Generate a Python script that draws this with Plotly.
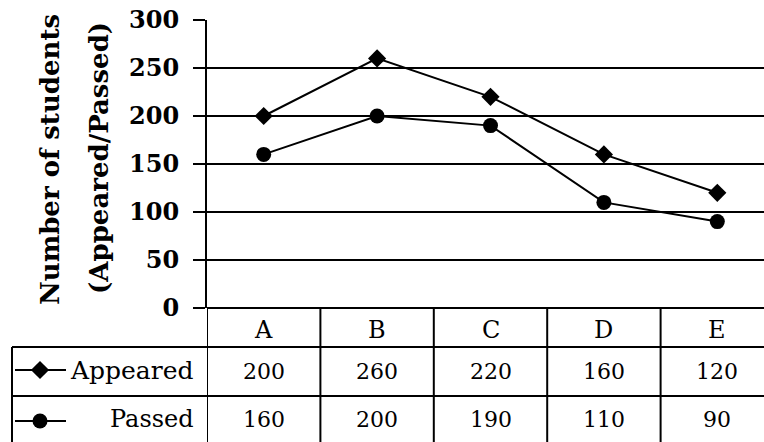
import plotly.graph_objects as go

# ---- data ----
categories = ["A", "B", "C", "D", "E"]
appeared = [200, 260, 220, 160, 120]
passed = [160, 200, 190, 110, 90]
y_ticks = [0, 50, 100, 150, 200, 250, 300]
series_names = ["Appeared", "Passed"]
y_title_lines = ["Number of students", "(Appeared/Passed)"]

# ---- layout constants (pixels) ----
W, H = 764, 442
PL, PT, PB = 207, 20, 308          # plot left, top, bottom (px)
COLW = 113.4                        # category column width (px)
ROW1, ROW2 = 347, 396              # table row boundaries (px)
INK = "#000000"
SERIF = "DejaVu Serif"

fig = go.Figure()
x_idx = list(range(len(categories)))

fig.add_trace(go.Scatter(
    x=x_idx, y=appeared, mode="lines+markers", name=series_names[0],
    line=dict(color=INK, width=2),
    marker=dict(symbol="diamond", size=14, color=INK),
    cliponaxis=False, showlegend=False))
fig.add_trace(go.Scatter(
    x=x_idx, y=passed, mode="lines+markers", name=series_names[1],
    line=dict(color=INK, width=2),
    marker=dict(symbol="circle", size=15, color=INK),
    cliponaxis=False, showlegend=False))

# legend keys inside the table (pixel overlay axes)
for key_y, sym, sz in ((370, "diamond", 14), (421, "circle", 15)):
    fig.add_trace(go.Scatter(
        x=[15, 66], y=[key_y, key_y], mode="lines",
        line=dict(color=INK, width=2),
        xaxis="x2", yaxis="y2", showlegend=False, hoverinfo="skip", cliponaxis=False))
    fig.add_trace(go.Scatter(
        x=[40], y=[key_y], mode="markers",
        marker=dict(symbol=sym, size=sz, color=INK, opacity=1),
        xaxis="x2", yaxis="y2", showlegend=False, hoverinfo="skip", cliponaxis=False))

shapes = []
# column dividers through the table
for i in range(len(categories)):
    shapes.append(dict(type="line", xref="x", yref="y2", x0=i - 0.5, x1=i - 0.5,
                       y0=PB, y1=H + 2, line=dict(color=INK, width=2)))
# horizontal table lines
for yy in (ROW1, ROW2):
    shapes.append(dict(type="line", xref="x2", yref="y2", x0=12, x1=W + 2,
                       y0=yy, y1=yy, line=dict(color=INK, width=2)))
# left border of label column
shapes.append(dict(type="line", xref="x2", yref="y2", x0=12, x1=12,
                   y0=ROW1, y1=H + 2, line=dict(color=INK, width=2)))

annotations = []
# y-axis title (two lines)
annotations.append(dict(text=y_title_lines[0], x=50, y=160, xref="x2", yref="y2",
                        textangle=-90, showarrow=False, xanchor="center", yanchor="middle",
                        font=dict(family=SERIF, size=26, color=INK, weight="bold")))
annotations.append(dict(text=y_title_lines[1], x=99, y=158, xref="x2", yref="y2",
                        textangle=-90, showarrow=False, xanchor="center", yanchor="middle",
                        font=dict(family=SERIF, size=26, color=INK, weight="bold")))
# header categories
for i, c in enumerate(categories):
    annotations.append(dict(text=c, x=i, y=330, xref="x", yref="y2", showarrow=False,
                            xanchor="center", yanchor="middle",
                            font=dict(family=SERIF, size=24, color=INK)))
# values rows
for i in range(len(categories)):
    annotations.append(dict(text=str(appeared[i]), x=i, y=371, xref="x", yref="y2",
                            showarrow=False, xanchor="center", yanchor="middle",
                            font=dict(family=SERIF, size=22, color=INK)))
    annotations.append(dict(text=str(passed[i]), x=i, y=419, xref="x", yref="y2",
                            showarrow=False, xanchor="center", yanchor="middle",
                            font=dict(family=SERIF, size=22, color=INK)))
# row labels
annotations.append(dict(text=series_names[0], x=196, y=370, xref="x2", yref="y2",
                        showarrow=False, xanchor="right", yanchor="middle",
                        font=dict(family=SERIF, size=25, color=INK)))
annotations.append(dict(text=series_names[1], x=196, y=419, xref="x2", yref="y2",
                        showarrow=False, xanchor="right", yanchor="middle",
                        font=dict(family=SERIF, size=24, color=INK)))

fig.update_layout(
    template="none",
    width=W, height=H, autosize=False,
    margin=dict(l=0, r=0, t=0, b=0, pad=0, autoexpand=False),
    paper_bgcolor="white", plot_bgcolor="rgba(0,0,0,0)",
    xaxis=dict(domain=[PL / W, 1], range=[-0.5, -0.5 + (W - PL) / COLW],
               showgrid=False, zeroline=False, showline=False, automargin=False,
               showticklabels=False, ticks="", fixedrange=True),
    yaxis=dict(domain=[1 - PB / H, 1 - PT / H], range=[0, 300], automargin=False,
               tickmode="array", tickvals=y_ticks, ticktext=[str(v) for v in y_ticks],
               showgrid=True, gridcolor=INK, gridwidth=2,
               zeroline=True, zerolinecolor=INK, zerolinewidth=2,
               showline=True, linecolor=INK, linewidth=2,
               ticks="outside", ticklen=12, tickwidth=2, tickcolor=INK,
               ticklabelstandoff=9,
               tickfont=dict(family=SERIF, size=24, color=INK, weight="bold"),
               fixedrange=True),
    xaxis2=dict(domain=[0, 1], range=[0, W], anchor="y2", visible=False,
                automargin=False, fixedrange=True),
    yaxis2=dict(domain=[0, 1], range=[H, 0], anchor="x2", visible=False,
                automargin=False, fixedrange=True),
    shapes=shapes,
    annotations=annotations,
    showlegend=False,
)

fig.write_html(
    "out.html",
    config={"staticPlot": True},
    post_script="document.body.style.margin='0';document.body.style.overflow='hidden';",
)
